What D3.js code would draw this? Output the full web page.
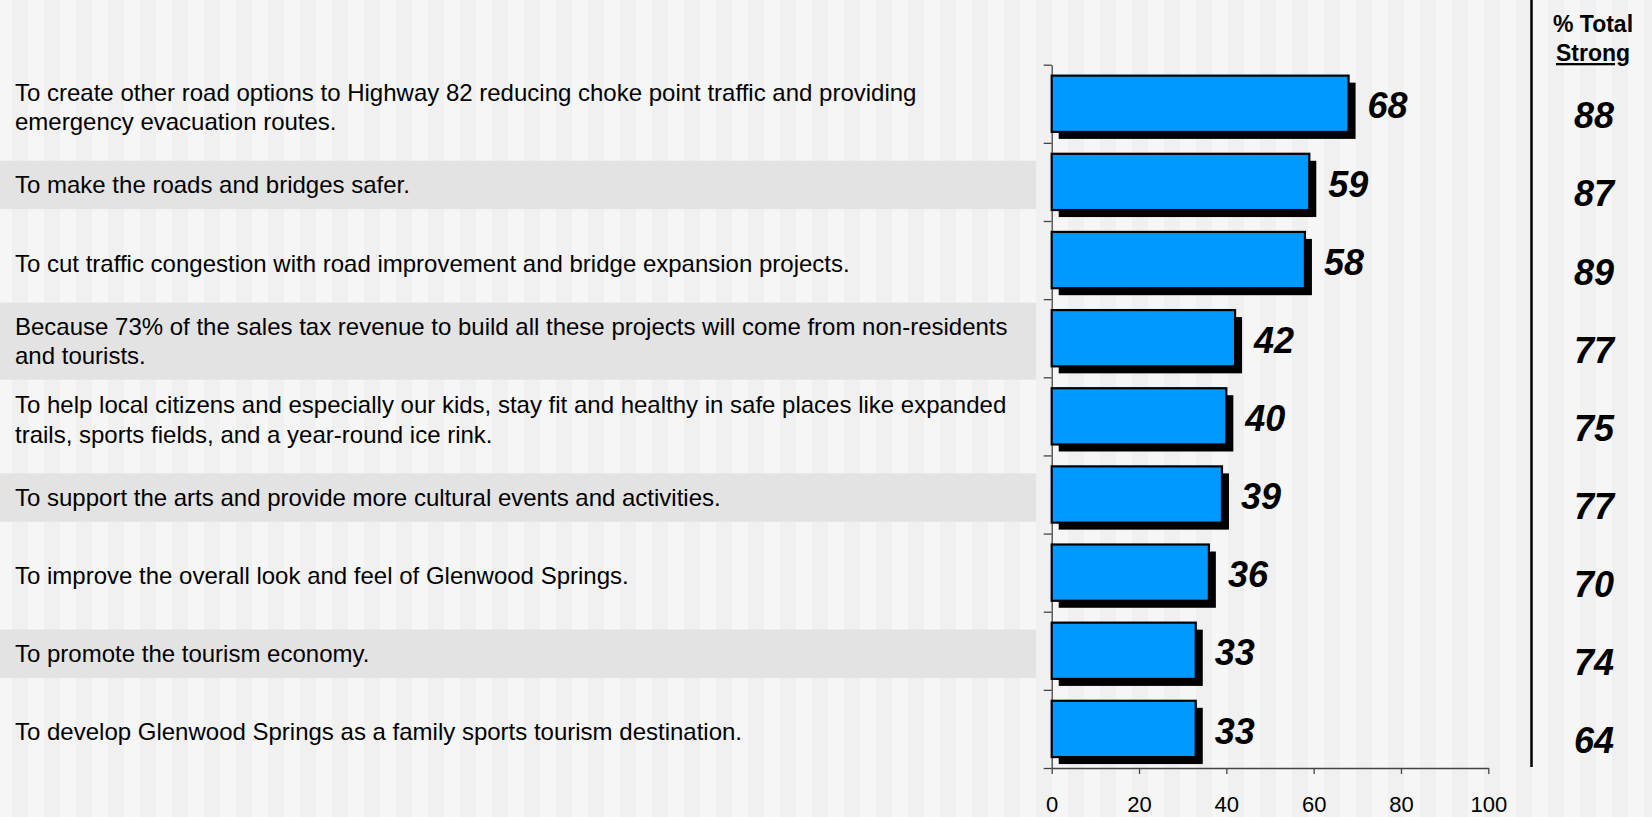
<!DOCTYPE html>
<html>
<head>
<meta charset="utf-8">
<script src="https://cdn.jsdelivr.net/npm/d3@7"></script>
<style>
  html, body { margin: 0; padding: 0; background: #f5f5f5; }
  svg { display: block; }
  text { font-family: "Liberation Sans", Arial, sans-serif; }
</style>
</head>
<body>
<svg id="chart" width="1652" height="817"></svg>
<script>
// ---- data ----
const categories = [
  "To create other road options to Highway 82 reducing choke point traffic and providing\nemergency evacuation routes.",
  "To make the roads and bridges safer.",
  "To cut traffic congestion with road improvement and bridge expansion projects.",
  "Because 73% of the sales tax revenue to build all these projects will come from non-residents\nand tourists.",
  "To help local citizens and especially our kids, stay fit and healthy in safe places like expanded\ntrails, sports fields, and a year-round ice rink.",
  "To support the arts and provide more cultural events and activities.",
  "To improve the overall look and feel of Glenwood Springs.",
  "To promote the tourism economy.",
  "To develop Glenwood Springs as a family sports tourism destination."
];
const strongValues = [68, 59, 58, 42, 40, 39, 36, 33, 33];
const totalStrong = [88, 87, 89, 77, 75, 77, 70, 74, 64];
const xTickValues = [0, 20, 40, 60, 80, 100];
const headerLines = ["% Total", "Strong"];

// ---- layout ----
const W = 1652, H = 817;
const svg = d3.select("#chart");

// background stripes
const stripeG = svg.append("g");
stripeG.append("rect").attr("width", W).attr("height", H).attr("fill", "#f6f6f6");
stripeG.selectAll("rect.s").data(d3.range(12, W, 32)).join("rect")
  .attr("class", "s")
  .attr("x", d => d).attr("y", 0).attr("width", 16).attr("height", H)
  .attr("fill", "#f0f0f0");

const x = d3.scaleLinear().domain([0, 100]).range([1051.7, 1488.3]);
const y = d3.scaleBand().domain(d3.range(categories.length)).range([64.7, 768]).paddingInner(0.28).paddingOuter(0.14);
const yEdge = d3.scaleLinear().domain([0, categories.length]).range([64.7, 768]);
const rowCenter = i => yEdge(i + 0.5);

const lineH = 29.4;
const labelOffset = 3;

// label column gray bands on alternate rows
const labelG = svg.append("g");
categories.forEach((c, i) => {
  const lines = c.split("\n");
  const cy = rowCenter(i) + labelOffset;
  if (i % 2 === 1) {
    const h = lines.length === 1 ? 48.5 : 77;
    labelG.append("rect")
      .attr("x", 0).attr("y", cy - h / 2).attr("width", 1036).attr("height", h)
      .attr("fill", "#e3e3e3");
  }
  const t = labelG.append("text")
    .attr("font-size", 24).attr("fill", "#000");
  lines.forEach((ln, k) => {
    t.append("tspan")
      .attr("x", 15)
      .attr("y", cy + (k - (lines.length - 1) / 2) * lineH + 8.5)
      .text(ln);
  });
});

// axes
const axisColor = "#444";
const yAxis = svg.append("g").attr("transform", `translate(${x(0)},0)`)
  .call(d3.axisLeft(yEdge).tickValues(d3.range(categories.length + 1)).tickFormat("").tickSize(8).tickSizeOuter(0));
yAxis.selectAll("path, line").attr("stroke", axisColor).attr("stroke-width", 1.3);

const xAxis = svg.append("g").attr("transform", `translate(0,${yEdge(categories.length)})`)
  .call(d3.axisBottom(x).tickValues(xTickValues).tickSize(6).tickSizeOuter(0).tickPadding(22));
xAxis.selectAll("path, line").attr("stroke", axisColor).attr("stroke-width", 1.3);
xAxis.selectAll("text").attr("font-size", 22).attr("fill", "#000")
  .attr("font-family", "'Liberation Sans', Arial, sans-serif");

// bars with shadows
const barG = svg.append("g");
const shadow = 7;
barG.selectAll("rect.shadow").data(strongValues).join("rect")
  .attr("class", "shadow")
  .attr("x", x(0) + shadow)
  .attr("y", (d, i) => y(i) + shadow)
  .attr("width", d => x(d) - x(0))
  .attr("height", y.bandwidth())
  .attr("fill", "#000");
barG.selectAll("rect.bar").data(strongValues).join("rect")
  .attr("class", "bar")
  .attr("x", x(0))
  .attr("y", (d, i) => y(i))
  .attr("width", d => x(d) - x(0))
  .attr("height", y.bandwidth())
  .attr("fill", "#0099ff")
  .attr("stroke", "#000")
  .attr("stroke-width", 2.2);

// bar value labels
barG.selectAll("text.val").data(strongValues).join("text")
  .attr("class", "val")
  .attr("x", d => x(d) + 19)
  .attr("y", (d, i) => rowCenter(i) + 14.6)
  .attr("font-size", 36).attr("font-weight", "bold").attr("font-style", "italic")
  .attr("fill", "#000")
  .text(d => d);

// right column
const colX = 1594;
svg.append("line")
  .attr("x1", 1531.5).attr("x2", 1531.5).attr("y1", 0).attr("y2", 767)
  .attr("stroke", "#000").attr("stroke-width", 2.5);
svg.append("text")
  .attr("x", colX - 1).attr("y", 32)
  .attr("text-anchor", "middle").attr("font-size", 23).attr("font-weight", "bold")
  .text(headerLines[0]);
svg.append("text")
  .attr("x", colX - 1).attr("y", 61)
  .attr("text-anchor", "middle").attr("font-size", 23).attr("font-weight", "bold")
  .attr("text-decoration", "underline")
  .text(headerLines[1]);
svg.append("g").selectAll("text").data(totalStrong).join("text")
  .attr("x", colX)
  .attr("y", (d, i) => rowCenter(i) + 24.5)
  .attr("text-anchor", "middle")
  .attr("font-size", 36).attr("font-weight", "bold").attr("font-style", "italic")
  .attr("fill", "#000")
  .text(d => d);
</script>
</body>
</html>
